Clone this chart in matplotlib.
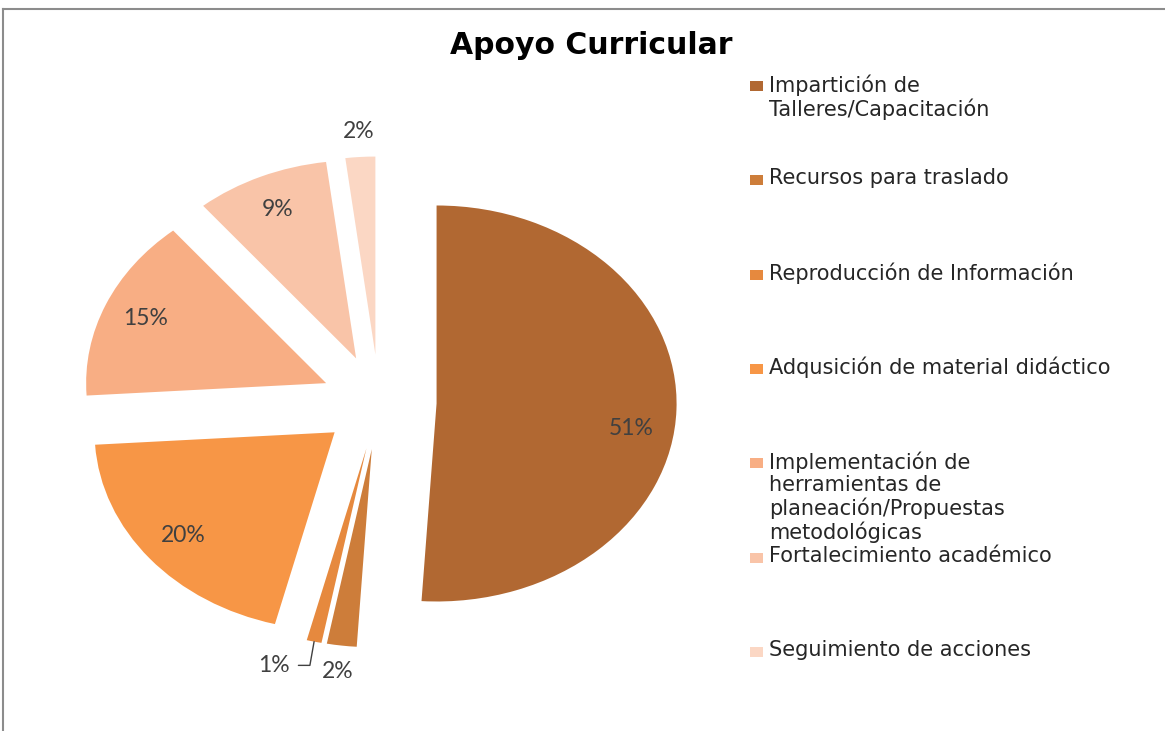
import matplotlib
matplotlib.use("Agg")
import matplotlib.pyplot as plt
from matplotlib.patches import Rectangle
from matplotlib.lines import Line2D
import numpy as np

# data
categories = [
    "Impartición de\nTalleres/Capacitación",
    "Recursos para traslado",
    "Reproducción de Información",
    "Adqusición de material didáctico",
    "Implementación de\nherramientas de\nplaneación/Propuestas\nmetodológicas",
    "Fortalecimiento académico",
    "Seguimiento de acciones",
]
percents = [51, 2, 1, 20, 15, 9, 2]
colors = ["#B16832", "#CD7D3A", "#E6893E", "#F79646", "#F8AE84", "#F9C4A8", "#FBD7C4"]

W, H = 1165, 731
fig = plt.figure(figsize=(W / 100, H / 100), dpi=100)

def px(x, y):
    # pixel position (from top-left) -> figure fraction
    return x / W, 1 - y / H

# chart frame (cut off at right and bottom like the source image)
fig.add_artist(Line2D([3 / W, 1.0], [1 - 9 / H, 1 - 9 / H], color="#8C8C8C", lw=1.5))
fig.add_artist(Line2D([3 / W, 3 / W], [1 - 9 / H, 0.0], color="#8C8C8C", lw=1.5))

# pie axes: 240 px per unit horizontally, 198 px per unit vertically
ax = fig.add_axes([19 / W, 32 / H, 720 / W, 594 / H])
wedges, texts = ax.pie(percents, colors=colors, startangle=90, counterclock=False,
                       explode=[0.24] * len(percents),
                       wedgeprops=dict(linewidth=0))
ax.set_aspect("auto")
ax.set_xlim(-1.5, 1.5)
ax.set_ylim(-1.5, 1.5)
ax.axis("off")

lab_font = dict(family="Lato", fontsize=16.5, color="#404040")
for i, (w, p) in enumerate(zip(wedges, percents)):
    mid = np.deg2rad((w.theta1 + w.theta2) / 2)
    cx, cy = w.center
    if p >= 5:
        r = 0.82
        if p > 50:
            mid -= np.deg2rad(7)
        ax.text(cx + r * np.cos(mid), cy + r * np.sin(mid), f"{p}%",
                ha="center", va="center", **lab_font)
    elif i == 2:
        # crowded slice: label moved aside with a leader line
        xy = (cx + np.cos(mid), cy + np.sin(mid))
        ax.annotate(f"{p}%", xy=xy, xytext=(xy[0] - 0.1, xy[1] - 0.12),
                    ha="right", va="center", **lab_font,
                    arrowprops=dict(arrowstyle="-", color="#404040", lw=1,
                                    shrinkA=4, shrinkB=0,
                                    connectionstyle="angle,angleA=0,angleB=80"))
    else:
        r = 1.13 if mid < 0 else 1.07
        ax.text(cx + r * np.cos(mid), cy + r * np.sin(mid), f"{p}%",
                ha="center", va="center", **lab_font)

fig.text(*px(591, 45), "Apoyo Curricular", ha="center", va="center",
         family="DejaVu Sans", fontsize=21.5, fontweight="bold", color="black")

# legend drawn as fixed-pitch entries (Excel style)
y0, pitch = 86, 94.3
for i, (lab, c) in enumerate(zip(categories, colors)):
    yc = y0 + i * pitch
    fig.add_artist(Rectangle(px(750, yc + 5), 13 / W, 10 / H, color=c, lw=0))
    fig.text(*px(769, yc - 12), lab, ha="left", va="top", family="DejaVu Sans",
             fontsize=15, color="#262626", linespacing=1.15)

fig.savefig("out.png", dpi=100)
